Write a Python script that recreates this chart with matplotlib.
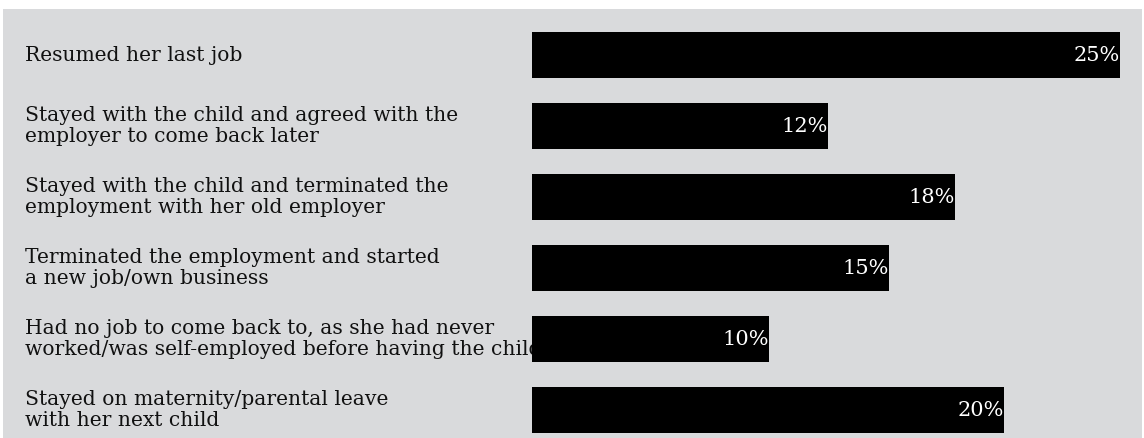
import matplotlib.pyplot as plt
from matplotlib.patches import Rectangle
from matplotlib.transforms import blended_transform_factory

# answers and shares (bar widths, labels as printed)
answers = [
    "Resumed her last job",
    "Stayed with the child and agreed with the\nemployer to come back later",
    "Stayed with the child and terminated the\nemployment with her old employer",
    "Terminated the employment and started\na new job/own business",
    "Had no job to come back to, as she had never\nworked/was self-employed before having the child",
    "Stayed on maternity/parental leave\nwith her next child",
]
shares = [25.0, 12.6, 18.0, 15.2, 10.1, 20.1]
share_labels = ["25%", "12%", "18%", "15%", "10%", "20%"]

W, H = 1144, 438
bg = "#d9dadc"

fig = plt.figure(figsize=(W / 100, H / 100), dpi=100, facecolor="white")
fig.patches.append(Rectangle((3 / W, 0), 1139 / W, 1 - 9 / H,
                             transform=fig.transFigure, facecolor=bg,
                             edgecolor="none", zorder=-1))

ax = fig.add_axes([532 / W, 0, 611 / W, 1 - 9 / H])
ax.set_facecolor("none")
ypos = list(range(len(answers)))
ax.barh(ypos, shares, height=0.648, color="black", zorder=3)
ax.set_xlim(0, 26)
ax.set_ylim(5.394, -0.648)
ax.axis("off")

label_tr = blended_transform_factory(fig.transFigure, ax.transData)
for y, v, lab, txt in zip(ypos, shares, share_labels, answers):
    ax.text(v, y, lab, ha="right", va="center", color="white",
            family="DejaVu Serif", fontsize=15, zorder=4)
    # category text sits behind the bars, so long lines get cut off
    ax.text(25 / W, y, txt, transform=label_tr, ha="left", va="center",
            family="DejaVu Serif", fontsize=14.6, color="#111111",
            linespacing=1.12, zorder=1, clip_on=False)

fig.savefig("out.png", dpi=100, facecolor="white")
